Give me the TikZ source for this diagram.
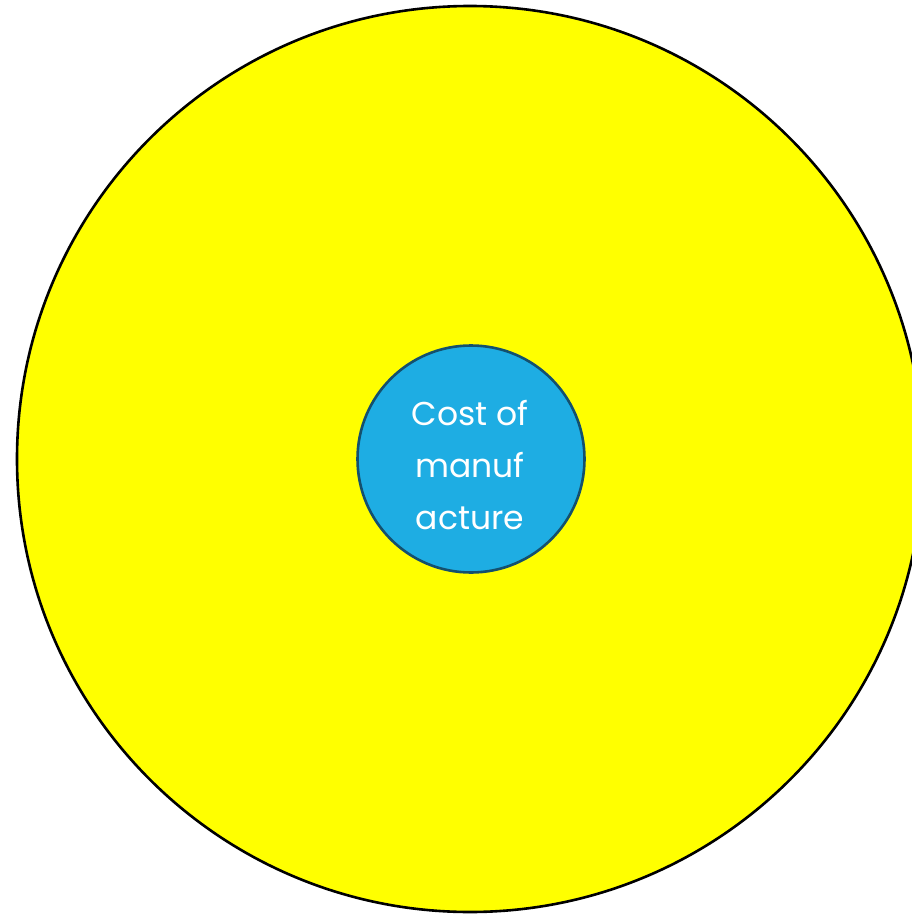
\documentclass[tikz,border=0pt]{standalone}
\usepackage{fontspec}
\setmainfont{Poppins}
\definecolor{outerfill}{RGB}{255,255,0}
\definecolor{innerfill}{RGB}{30,173,227}
\definecolor{inneredge}{RGB}{20,80,110}
\begin{document}
\begin{tikzpicture}[x=1pt,y=-1pt,
  outer/.style={circle,draw=black,line width=2.6pt,fill=outerfill,minimum size=906pt,inner sep=0pt},
  inner/.style={circle,draw=inneredge,line width=2.6pt,fill=innerfill,minimum size=227pt,inner sep=0pt},
  label/.style={text=white,align=center,font=\fontsize{33}{52}\selectfont,inner sep=0pt}]
\useasboundingbox (0,0) rectangle (912,915);
\begin{scope}
\clip (0,0) rectangle (912,915);
\node[outer] (big) at (470,459) {};
\node[inner] (core) at (471,459) {};
\node[label] (txt) at (470,465) {Cost of\\manuf\\acture};
\end{scope}
\end{tikzpicture}
\end{document}
